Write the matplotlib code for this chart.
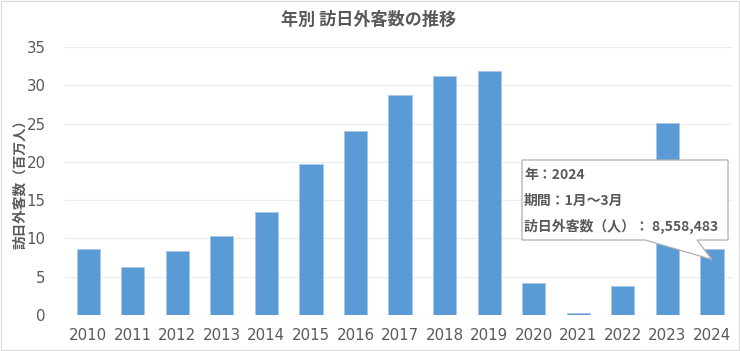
import matplotlib
matplotlib.use("Agg")
import matplotlib.pyplot as plt
from matplotlib.patches import Polygon, Rectangle

plt.rcParams['font.family'] = ['Noto Sans CJK JP', 'DejaVu Sans']

# data (millions of visitors)
years = ["2010", "2011", "2012", "2013", "2014", "2015", "2016", "2017",
         "2018", "2019", "2020", "2021", "2022", "2023", "2024"]
visitors = [8.61, 6.22, 8.36, 10.36, 13.41, 19.74, 24.04, 28.69,
            31.19, 31.88, 4.12, 0.25, 3.83, 25.07, 8.56]
yticks = [0, 5, 10, 15, 20, 25, 30, 35]
tip_lines = ["年：2024", "期間：1月～3月", "訪日外客数（人）： 8,558,483"]

W, H = 740, 351
fig = plt.figure(figsize=(W / 100, H / 100), dpi=100)
ax = fig.add_axes([65 / W, 1 - 315 / H, (732 - 65) / W, (315 - 47) / H])

txt = "#595959"
x = range(len(years))
ax.bar(x, visitors, width=0.52, color="#5b9bd5", edgecolor="#a9c8ea",
       linewidth=0.6, zorder=2)

ax.set_xlim(-0.52, 14.45)
ax.set_ylim(0, 35)
ax.set_yticks(yticks)
ax.set_xticks(list(x))
ax.set_xticklabels(years)
ax.tick_params(length=0, colors=txt, labelsize=10.8, pad=9)
ax.tick_params(axis="y", pad=14)
for lab in ax.get_xticklabels() + ax.get_yticklabels():
    lab.set_family("DejaVu Sans")
ax.grid(axis="y", color="#ececec", linewidth=0.8, zorder=0)
for s in ax.spines.values():
    s.set_visible(False)

ax.set_ylabel("訪日外客数（百万人）", color=txt, fontsize=9.8,
              fontweight="bold", labelpad=2)
ax.yaxis.set_label_coords(-0.056, 0.5)
fig.text(369 / W, 1 - 20 / H, "年別 訪日外客数の推移", ha="center",
         va="center", color=txt, fontsize=12.3, fontweight="bold")

# frame round the whole chart
fig.patches.append(Rectangle((0.001, 0.002), 0.997, 0.995, transform=fig.transFigure,
                             fill=False, edgecolor="#d9d9d9", linewidth=0.8))

# tooltip on the last bar
fig.canvas.draw()
tx, ty = ax.transData.transform((len(years) - 1, visitors[-1]))
ty = H - ty + 10
bl, br, bt, bb = 522, 728, 160, 240
pts = [(bl, bt), (br, bt), (br, bb), (697, bb), (tx, ty), (645, bb), (bl, bb)]
pts = [(px / W, 1 - py / H) for px, py in pts]
fig.patches.append(Polygon(pts, closed=True, transform=fig.transFigure,
                           facecolor="white", edgecolor="#b0b0b0",
                           linewidth=0.9, zorder=5))
for i, line in enumerate(tip_lines):
    fig.text(524 / W, 1 - (175 + 25.5 * i) / H, line, ha="left", va="center",
             color=txt, fontsize=10, fontweight="bold", zorder=6)

fig.savefig("out.png", dpi=100)
